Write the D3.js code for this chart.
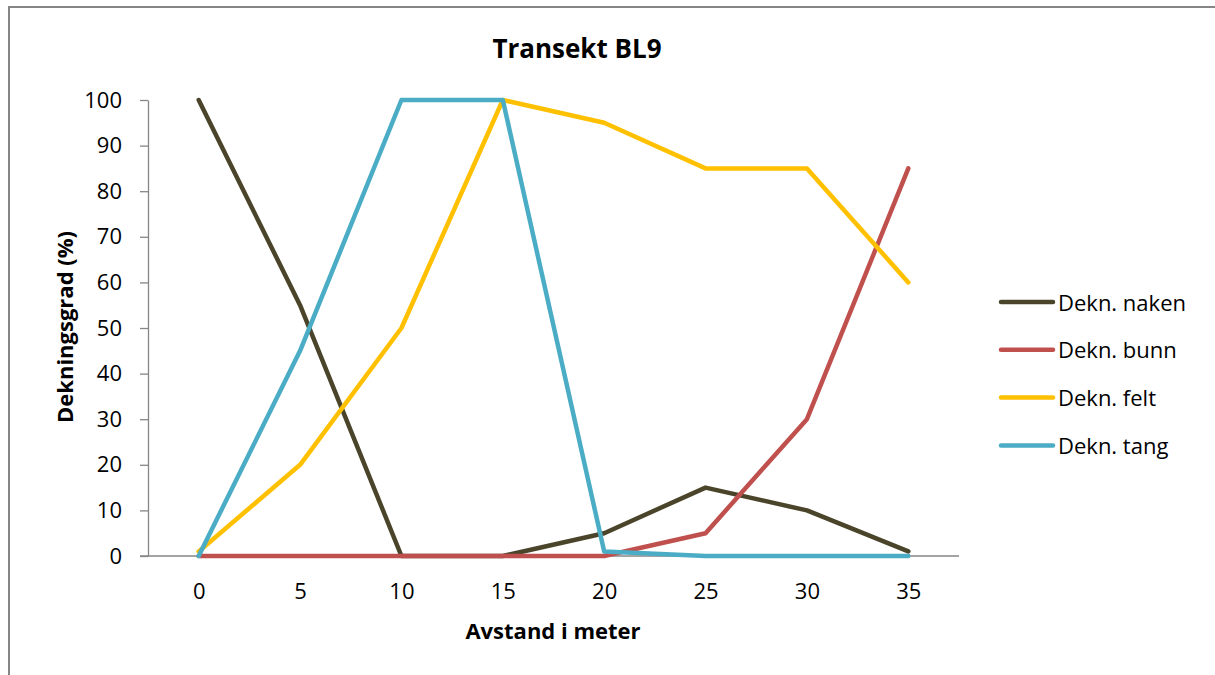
<!DOCTYPE html>
<html>
<head>
<meta charset="utf-8">
<script src="https://cdn.jsdelivr.net/npm/d3@7"></script>
<style>
  body { margin: 0; background: #fff; }
  text { font-family: "Open Sans", sans-serif; fill: #000; }
</style>
</head>
<body>
<svg id="chart" width="1215" height="675"></svg>
<script>
// Data
const avstand = [0, 5, 10, 15, 20, 25, 30, 35];
const naken = [100, 55, 0, 0, 5, 15, 10, 1];
const bunn = [0, 0, 0, 0, 0, 5, 30, 85];
const felt = [1, 20, 50, 100, 95, 85, 85, 60];
const tang = [0, 45, 100, 100, 1, 0, 0, 0];
const yTicks = [0, 10, 20, 30, 40, 50, 60, 70, 80, 90, 100];

const serier = [
    {navn: "Dekn. naken", verdier: naken, farge: "#4a452a"},
    {navn: "Dekn. bunn", verdier: bunn, farge: "#c0504d"},
    {navn: "Dekn. felt", verdier: felt, farge: "#ffc000"},
    {navn: "Dekn. tang", verdier: tang, farge: "#4bacc6"}
];

const svg = d3.select("#chart");

// ramme rundt diagrammet
svg.append("rect")
    .attr("x", 9).attr("y", 7)
    .attr("width", 1215).attr("height", 700)
    .attr("fill", "none")
    .attr("stroke", "#868686")
    .attr("stroke-width", 2);

const plot = {left: 148, right: 959, top: 100, bottom: 556};

const x = d3.scalePoint()
    .domain(avstand)
    .range([plot.left, plot.right])
    .padding(0.5);

const y = d3.scaleLinear()
    .domain([0, 100])
    .range([plot.bottom, plot.top]);

// y-akse
const yAxis = svg.append("g")
    .attr("transform", "translate(" + plot.left + ",0)")
    .call(d3.axisLeft(y).tickValues(yTicks).tickSize(8).tickSizeOuter(0).tickPadding(18));
yAxis.select(".domain").attr("stroke", "#868686").attr("stroke-width", 1.3);
yAxis.selectAll(".tick line").attr("stroke", "#868686").attr("stroke-width", 1.3);
yAxis.selectAll("text").style("font-size", "22px").attr("fill", "#000");

// x-akse
const xAxis = svg.append("g")
    .attr("transform", "translate(0," + plot.bottom + ")")
    .call(d3.axisBottom(x).tickSize(0).tickPadding(27));
xAxis.select(".domain").attr("d", "M" + (plot.left - 8) + ",0H" + plot.right)
    .attr("stroke", "#868686").attr("stroke-width", 1.3);
xAxis.selectAll("text").style("font-size", "22px").attr("fill", "#000");

// linjer
const line = d3.line()
    .x((d, i) => x(avstand[i]))
    .y(d => y(d));

svg.append("g")
    .selectAll("path")
    .data(serier)
    .enter()
    .append("path")
    .attr("d", d => line(d.verdier))
    .attr("fill", "none")
    .attr("stroke", d => d.farge)
    .attr("stroke-width", 4.5)
    .attr("stroke-linejoin", "round")
    .attr("stroke-linecap", "round");

// titler
svg.append("text")
    .attr("x", 577).attr("y", 58)
    .attr("text-anchor", "middle")
    .style("font-size", "26px")
    .style("font-weight", "bold")
    .text("Transekt BL9");

svg.append("text")
    .attr("x", 553).attr("y", 639)
    .attr("text-anchor", "middle")
    .style("font-size", "22px")
    .style("font-weight", "bold")
    .text("Avstand i meter");

svg.append("text")
    .attr("transform", "translate(73,327) rotate(-90)")
    .attr("text-anchor", "middle")
    .style("font-size", "22px")
    .style("font-weight", "bold")
    .text("Dekningsgrad (%)");

// forklaring
const legend = svg.append("g")
    .selectAll("g")
    .data(serier)
    .enter()
    .append("g")
    .attr("transform", (d, i) => "translate(1000," + (302 + i * 47.8) + ")");

legend.append("line")
    .attr("x1", 1).attr("x2", 53)
    .attr("stroke", d => d.farge)
    .attr("stroke-width", 4.5)
    .attr("stroke-linecap", "round");

legend.append("text")
    .attr("x", 58).attr("y", 8.5)
    .style("font-size", "22px")
    .text(d => d.navn);
</script>
</body>
</html>
